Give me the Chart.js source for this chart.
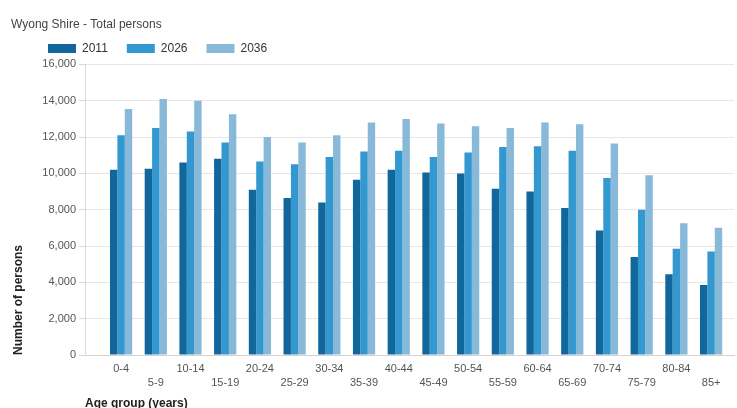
<!DOCTYPE html>
<html>
<head>
<meta charset="utf-8">
<style>
  html, body { margin: 0; padding: 0; background: #ffffff; }
  #c { display: block; }
</style>
<script src="https://cdn.jsdelivr.net/npm/chart.js@4/dist/chart.umd.min.js"></script>
</head>
<body>
<canvas id="c" width="737" height="408"></canvas>
<script>
const chartTitle = 'Wyong Shire - Total persons';
const ageGroups = ['0-4','5-9','10-14','15-19','20-24','25-29','30-34','35-39','40-44','45-49','50-54','55-59','60-64','65-69','70-74','75-79','80-84','85+'];
const seriesNames = ['2011', '2026', '2036'];
const persons2011 = [10200,10250,10600,10800,9100,8650,8400,9650,10200,10050,10000,9150,9000,8100,6850,5400,4450,3850];
const persons2026 = [12100,12500,12300,11700,10650,10500,10900,11200,11250,10900,11150,11450,11500,11250,9750,8000,5850,5700];
const persons2036 = [13550,14100,14000,13250,12000,11700,12100,12800,13000,12750,12600,12500,12800,12700,11650,9900,7250,7000];
const yTicks = [0,2000,4000,6000,8000,10000,12000,14000,16000];
const yTitle = 'Number of persons';
const xTitle = 'Age group (years)';

const colors = ['#11679b', '#3498d0', '#88b9d8'];
const seriesValues = [persons2011, persons2026, persons2036];
const FONT = "'Liberation Sans', Arial, sans-serif";

const datasets = seriesNames.map((name, s) => ({
  label: name,
  data: seriesValues[s].map((v, i) => ({ x: i, y: v })),
  backgroundColor: colors[s],
  borderWidth: 0,
  categoryPercentage: 0.64,
  barPercentage: 1.0
}));

const shiftPlugin = {
  id: 'shiftBoxes',
  afterLayout(chart) {
    if (chart.titleBlock) { chart.titleBlock.top += 8; chart.titleBlock.bottom += 8; }
    if (chart.legend) { chart.legend.left += 18; chart.legend.right += 18; }
  }
};

new Chart(document.getElementById('c'), {
  type: 'bar',
  data: { datasets },
  plugins: [shiftPlugin],
  options: {
    responsive: false,
    animation: false,
    layout: { padding: { left: 11, right: 3, top: 0, bottom: 0 } },
    plugins: {
      title: {
        display: true,
        text: chartTitle,
        align: 'start',
        color: '#444444',
        font: { family: FONT, size: 12, weight: 'normal' },
        padding: { top: 9, bottom: 0 }
      },
      legend: {
        display: true,
        position: 'top',
        align: 'start',
        labels: {
          boxWidth: 28,
          boxHeight: 9,
          padding: 19,
          color: '#333333',
          font: { family: FONT, size: 12 }
        }
      },
      tooltip: { enabled: false }
    },
    scales: {
      x: {
        type: 'linear',
        offset: false,
        min: -1.04,
        max: 17.66,
        afterBuildTicks: (scale) => { scale.ticks = ageGroups.map((_, i) => ({ value: i })); },
        afterFit: (scale) => { scale.height = 53; },
        grid: { display: false, drawTicks: false, tickLength: 0 },
        border: { display: true, color: '#d9d2cc', width: 1 },
        ticks: {
          autoSkip: false,
          maxRotation: 0,
          minRotation: 0,
          padding: 7,
          color: '#555555',
          font: { family: FONT, size: 11, lineHeight: 1.25 },
          callback: (value) => {
            const i = Math.round(value);
            const lab = ageGroups[i];
            if (lab === undefined) return '';
            return i % 2 === 0 ? [lab] : ['', lab];
          }
        },
        title: {
          display: true,
          text: xTitle,
          align: 'start',
          color: '#222222',
          font: { family: FONT, size: 12, weight: 'bold' },
          padding: { top: 4, bottom: -3 }
        }
      },
      y: {
        min: 0,
        max: 16000,
        afterBuildTicks: (scale) => { scale.ticks = yTicks.map(v => ({ value: v })); },
        afterFit: (scale) => { scale.width = 74; },
        grid: { color: '#e6e6e6', tickLength: 6, tickColor: '#d8d8d8' },
        border: { display: true, color: '#cfdde6' },
        ticks: {
          padding: 3,
          color: '#555555',
          font: { family: FONT, size: 11 },
          callback: (v) => v.toLocaleString('en-US')
        },
        title: {
          display: true,
          text: yTitle,
          align: 'start',
          color: '#222222',
          font: { family: FONT, size: 12, weight: 'bold' },
          padding: { top: 0, bottom: 0 }
        }
      }
    }
  }
});
</script>
</body>
</html>
